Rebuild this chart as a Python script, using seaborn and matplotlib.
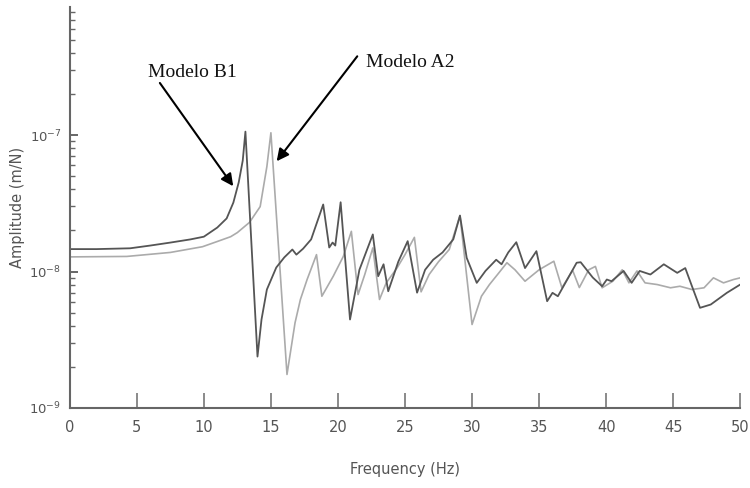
import numpy as np
import pandas as pd
import seaborn as sns
import matplotlib
matplotlib.use("Agg")
import matplotlib.pyplot as plt
from matplotlib.ticker import LogLocator, LogFormatterMathtext, NullFormatter

# Modelo B1 (curva escura) - amplitude em 1e-8 m/N
freq_b1 = [0.0, 2.0, 4.5, 6.0, 7.5, 9.0, 10.0, 11.0, 11.7, 12.2, 12.6, 12.9, 13.1,
           14.0, 14.3, 14.7, 15.4, 16.0, 16.6, 16.9, 17.4, 18.0, 18.9, 19.35, 19.6, 19.8,
           20.2, 20.9, 21.6, 22.6, 23.0, 23.4, 23.75, 24.5, 25.2, 25.9, 26.5, 27.1,
           27.8, 28.6, 29.1, 29.6, 30.35, 31.0, 31.8, 32.2, 32.7, 33.3, 33.95, 34.8,
           35.6, 36.0, 36.4, 37.1, 37.8, 38.1, 39.0, 39.7, 40.05, 40.4, 41.3, 41.9,
           42.5, 43.3, 44.3, 45.3, 45.9, 46.4, 47.0, 47.8, 49.0, 50.0]
amp_b1 = [1.46, 1.46, 1.48, 1.55, 1.63, 1.72, 1.80, 2.10, 2.45, 3.2, 4.5, 6.5, 10.6,
          0.238, 0.445, 0.738, 1.07, 1.27, 1.45, 1.33, 1.47, 1.72, 3.10, 1.50, 1.63, 1.55,
          3.22, 0.445, 1.03, 1.87, 0.924, 1.13, 0.717, 1.18, 1.67, 0.70, 1.03, 1.22,
          1.38, 1.72, 2.57, 1.26, 0.826, 1.01, 1.22, 1.13, 1.38, 1.64, 1.06, 1.41,
          0.606, 0.698, 0.659, 0.874, 1.16, 1.17, 0.904, 0.780, 0.874, 0.849, 1.01, 0.826,
          1.01, 0.951, 1.13, 0.978, 1.06, 0.780, 0.542, 0.573, 0.698, 0.803]

# Modelo A2 (curva clara)
freq_a2 = [0.0, 4.25, 7.5, 9.9, 11.0, 12.0, 12.5, 13.4, 14.2, 14.7, 15.0,
           16.2, 16.8, 17.2, 17.7, 18.4, 18.8, 19.65, 20.4, 21.0, 21.5, 22.0, 22.6,
           23.1, 23.6, 24.4, 25.0, 25.7, 26.2, 26.8, 27.5, 28.3, 29.1, 30.0, 30.7,
           31.3, 32.0, 32.6, 33.2, 33.95, 35.0, 36.1, 36.7, 37.5, 38.0, 38.7, 39.2,
           39.7, 40.5, 41.2, 41.7, 42.3, 42.9, 43.8, 44.8, 45.5, 46.4, 47.3, 48.0,
           48.75, 49.5, 50.0]
amp_a2 = [1.28, 1.29, 1.38, 1.52, 1.66, 1.80, 1.93, 2.29, 2.99, 5.88, 10.4,
          0.176, 0.421, 0.624, 0.874, 1.33, 0.659, 0.924, 1.29, 1.97, 0.678, 0.951, 1.49,
          0.624, 0.826, 1.06, 1.33, 1.78, 0.71, 0.951, 1.18, 1.45, 2.57, 0.409, 0.659,
          0.803, 0.978, 1.16, 1.03, 0.849, 1.03, 1.19, 0.76, 1.02, 0.763, 1.03, 1.09,
          0.76, 0.849, 1.03, 0.826, 1.01, 0.826, 0.803, 0.76, 0.78, 0.738, 0.76, 0.899,
          0.826, 0.874, 0.899]

y_ticks = [1e-9, 1e-8, 1e-7]

sns.set_style("ticks")
plt.rcParams["font.family"] = ["DejaVu Sans"]

df_b1 = pd.DataFrame({"freq": freq_b1, "amp": np.array(amp_b1) * 1e-8})
df_a2 = pd.DataFrame({"freq": freq_a2, "amp": np.array(amp_a2) * 1e-8})

fig, ax = plt.subplots(figsize=(7.5, 4.88), dpi=100)
fig.subplots_adjust(left=0.093, right=0.987, bottom=0.164, top=0.986)

sns.lineplot(data=df_a2, x="freq", y="amp", color="#ababab", lw=1.2, estimator=None, ax=ax)
sns.lineplot(data=df_b1, x="freq", y="amp", color="#555555", lw=1.3, estimator=None, ax=ax)

ax.set_yscale("log")
ax.set_xlim(0, 50)
ax.set_ylim(1e-9, 10 ** -6.06)
ax.set_xticks(range(0, 51, 5))
ax.set_yticks(y_ticks)
ax.yaxis.set_major_formatter(LogFormatterMathtext())
ax.yaxis.set_minor_locator(LogLocator(base=10, subs=np.arange(2, 10), numticks=10))
ax.yaxis.set_minor_formatter(NullFormatter())

sns.despine(ax=ax)
for side in ["left", "bottom"]:
    ax.spines[side].set_color("#666666")
    ax.spines[side].set_linewidth(1.5)

ax.tick_params(axis="x", direction="in", length=11, width=1.2, color="#777777",
               labelcolor="#555555", labelsize=10.5, pad=9)
ax.tick_params(axis="y", which="major", direction="in", length=6, width=1.4, color="#666666",
               labelcolor="#555555", labelsize=9.5, pad=6)
ax.tick_params(axis="y", which="minor", direction="in", length=3.5, width=1.0, color="#666666")

ax.set_xlabel("Frequency (Hz)", fontsize=10.5, color="#555555")
ax.set_ylabel("Amplitude (m/N)", fontsize=10.5, color="#555555")
ax.xaxis.set_label_coords(0.5, -0.135)
ax.yaxis.set_label_coords(-0.066, 0.5)

# setas e textos
arrow = dict(arrowstyle="-|>", color="black", lw=1.5, mutation_scale=18, shrinkA=0, shrinkB=0)
ax.annotate("", xy=(12.19, 4.22e-8), xytext=(6.72, 2.41e-7), arrowprops=arrow)
ax.annotate("", xy=(15.43, 6.43e-8), xytext=(21.44, 3.78e-7), arrowprops=arrow)
ax.text(5.82, 2.67e-7, "Modelo B1", family="Liberation Serif", fontsize=14,
        ha="left", va="baseline", color="#111111")
ax.text(22.09, 3.14e-7, "Modelo A2", family="Liberation Serif", fontsize=14,
        ha="left", va="baseline", color="#111111")

fig.savefig("out.png", dpi=100)
